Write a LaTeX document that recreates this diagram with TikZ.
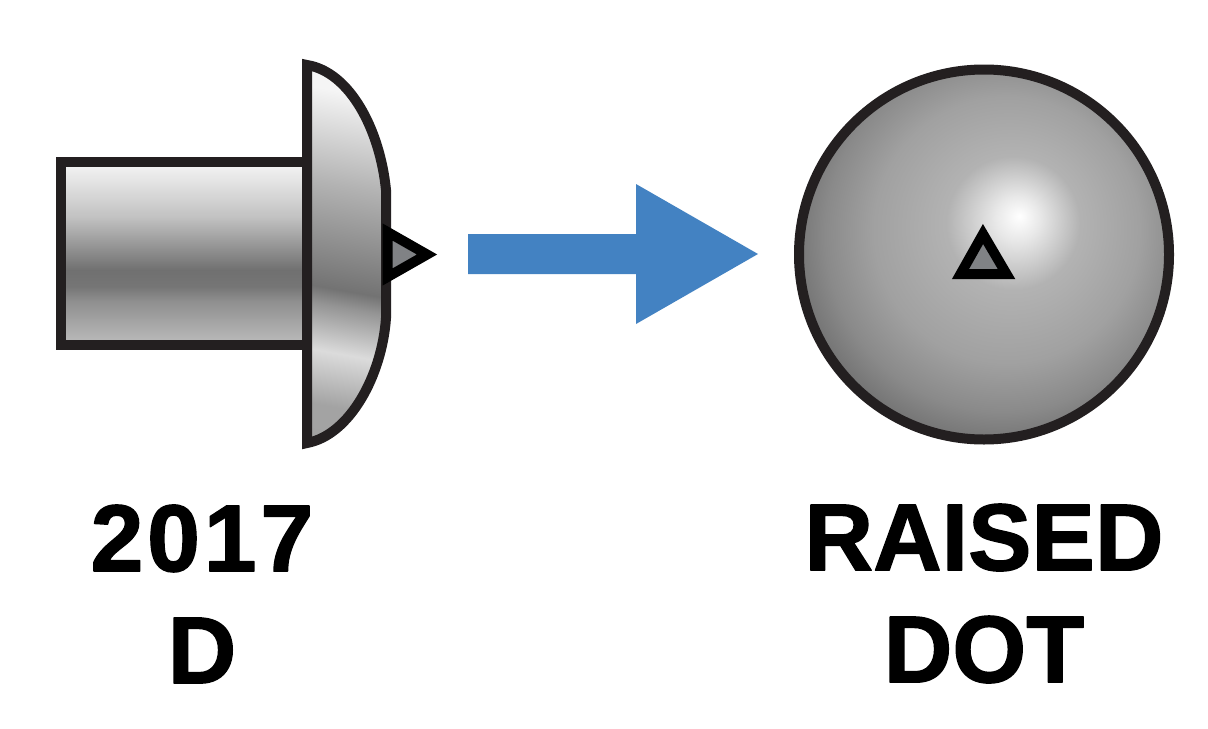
\documentclass[tikz,border=0pt]{standalone}
\usepackage{fontspec}
\setmainfont{Liberation Sans}
\usetikzlibrary{positioning}
\definecolor{rivet-line}{RGB}{35,31,32}
\definecolor{dot-gray}{RGB}{128,130,133}
\definecolor{arrow-blue}{RGB}{67,130,194}
\pgfdeclareverticalshading{rodmetal}{100bp}{color(0bp)=(black!22); color(25bp)=(black!26); color(37bp)=(black!44); color(41bp)=(black!54); color(45.5bp)=(black!56); color(60bp)=(black!24); color(74bp)=(black!5); color(100bp)=(black!5)}
\pgfdeclareverticalshading{headmetal}{100bp}{color(0bp)=(black!38); color(27bp)=(black!36); color(35bp)=(black!14); color(42bp)=(black!42); color(44.5bp)=(black!55); color(60bp)=(black!30); color(74bp)=(black!4); color(100bp)=(black!4)}
\pgfdeclareradialshading{spheremetal}{\pgfpoint{4.8bp}{5.2bp}}{color(0bp)=(white); color(3bp)=(black!9); color(9bp)=(black!30); color(18bp)=(black!37); color(24bp)=(black!46); color(28bp)=(black!55); color(50bp)=(black!56)}

\begin{document}
\begin{tikzpicture}[
    x=0.5pt, y=-0.5pt,
    outline/.style={draw=rivet-line, line width=5pt},
    dot/.style={draw=black, line width=5pt, fill=dot-gray},
    caption/.style={font=\fontsize{47.5}{56}\selectfont\bfseries, align=center, text=black, inner sep=0pt,
        execute at begin node={\special{pdf:code 1 j 1 J 0.7 w 2 Tr}}, execute at end node={\special{pdf:code 0 Tr}}}
]
\useasboundingbox (0,0) rectangle (1208,728);

% Shank
\draw[outline, shading=rodmetal] (61,162) rectangle (307,345);

% Head
\draw[outline, miter limit=10, shading=headmetal, shading angle=-10] (307,65) .. controls (350,72) and (380,130) .. (386,190) -- (386,318) .. controls (382,375) and (350,435) .. (307,443) -- cycle;
\draw[dot] (387.5,232) -- (427,254.5) -- (387.5,277) -- cycle;

% Arrow
\fill[arrow-blue] (468,234) -- (636,234) -- (636,184) -- (758,254) -- (636,324) -- (636,274) -- (468,274) -- cycle;

% Front view
\node[circle, outline, outer sep=0pt, inner sep=0pt, minimum size=185pt, shading=spheremetal] (sphere) at (984,254.5) {};
\draw[dot] (983,234) -- (1006.5,274) -- (960.5,274) -- cycle;

% Labels
\node[caption] (before) at (202,594) {\addfontfeature{LetterSpace=4}2017\\D};
\node[caption, below=32pt of sphere] (after) {RAISED\\DOT};

\end{tikzpicture}
\end{document}
